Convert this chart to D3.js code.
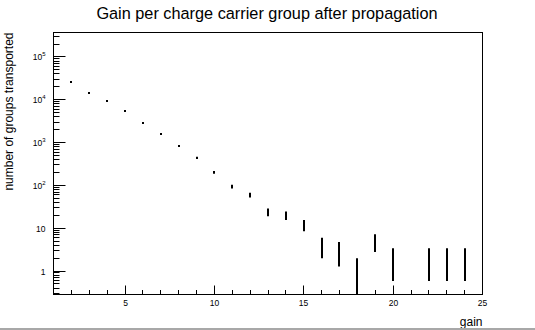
<!DOCTYPE html>
<html><head><meta charset="utf-8">
<script src="https://cdn.jsdelivr.net/npm/d3@7"></script>
<style>body{margin:0;background:#fff}svg{display:block;font-family:"Liberation Sans",Arial,sans-serif}</style>
</head><body><svg id="c" width="535" height="330"></svg>
<script>
const gains  = [2,3,4,5,6,7,8,9,10,11,12,13,14,15,16,17,18,19,20,21,22,23,24];
const counts = [25900,14300,9300,5460,2860,1590,834,447,200,94,60,24,20,12,4,3,1,5,2,0,2,2,2];
const xTickLabels = ["5","10","15","20","25"];
const yDecades = [0,1,2,3,4,5];

const svg = d3.select("#c");
const W=535,H=330;
const L=53.5,R=482.5,T=32.5,B=294.5;
const yMin=0.283, yMax=3.72e5;
const x = d3.scaleLinear().domain([1,25]).range([L,R]);
const y = d3.scaleLog().domain([yMin,yMax]).range([B,T]);

svg.append("rect").attr("width",W).attr("height",H).attr("fill","#fff");

// title
svg.append("text").attr("x",267).attr("y",19).attr("text-anchor","middle")
  .attr("font-size",16.3).text("Gain per charge carrier group after propagation");

// frame
svg.append("rect").attr("x",L).attr("y",T).attr("width",R-L).attr("height",B-T)
  .attr("fill","none").attr("stroke","#000").attr("stroke-width",1);

// x axis
const xt = d3.range(1,26);
const xa = d3.axisBottom(x).tickValues(xt).tickSizeInner(-9).tickSizeOuter(0).tickFormat(()=> "");
const gx = svg.append("g").attr("transform",`translate(0,${B})`).call(xa);
gx.select(".domain").remove();
gx.selectAll(".tick").attr("transform",d=>`translate(${Math.floor(x(d))+0.5},0)`);
gx.selectAll(".tick line").attr("y2",d=> d%5===0 ? -9 : -4.5).attr("stroke","#000");
gx.selectAll(".tick text").remove();
gx.selectAll(".tick").filter(d=>d%5===0).append("text")
  .attr("y",11).attr("fill","#000").attr("text-anchor","middle").attr("font-size",8.5)
  .text(d=> xTickLabels[d/5-1]);

// y axis
const yt = [];
for (let e=-1;e<=5;e++) for (let k=1;k<=9;k++){ const v=k*Math.pow(10,e); if(v>=yMin && v<=yMax) yt.push(v); }
const ya = d3.axisLeft(y).tickValues(yt).tickSizeInner(-12).tickSizeOuter(0).tickFormat(()=> "");
const gy = svg.append("g").attr("transform",`translate(${L},0)`).call(ya);
gy.select(".domain").remove();
gy.selectAll(".tick").attr("transform",d=>`translate(0,${Math.floor(y(d))+0.5})`);
const isMajor = v => Math.abs(Math.log10(v)-Math.round(Math.log10(v)))<1e-9;
gy.selectAll(".tick line").attr("x2",d=> isMajor(d)?12:6).attr("stroke","#000");
gy.selectAll(".tick text").remove();
gy.selectAll(".tick").filter(d=>isMajor(d)).each(function(d){
  const e = Math.round(Math.log10(d));
  const t = d3.select(this).append("text").attr("fill","#000").attr("font-size",8.5)
    .attr("text-anchor","end").attr("y",3).attr("x",-8);
  if (e===0) t.text("1");
  else if (e===1) t.text("10");
  else { t.text("10"); t.append("tspan").attr("font-size",6).attr("dy",-4).text(e); }
});

// axis titles
svg.append("text").attr("x",R).attr("y",326).attr("text-anchor","end").attr("font-size",12).text("gain");
svg.append("text").attr("transform",`translate(13,${T}) rotate(-90)`).attr("text-anchor","end")
  .attr("font-size",12).text("number of groups transported");

// data
const data = gains.map((g,i)=>({g, v:counts[i]})).filter(d=>d.v>0);
const clip = v => Math.max(yMin, Math.min(yMax, v));
const px = g => Math.round(x(g));
const gd = svg.append("g");
gd.selectAll("line.err").data(data).join("line").attr("class","err")
  .attr("x1",d=>px(d.g)).attr("x2",d=>px(d.g))
  .attr("y1",d=>y(clip(d.v+Math.sqrt(d.v))))
  .attr("y2",d=>y(clip(d.v-Math.sqrt(d.v))))
  .attr("stroke","#000").attr("stroke-width",2);
gd.selectAll("rect.m").data(data).join("rect").attr("class","m")
  .attr("x",d=>px(d.g)-1).attr("y",d=>Math.round(y(d.v))-1).attr("width",2).attr("height",2).attr("fill","#000");

// bottom gray border
svg.append("rect").attr("x",0).attr("y",328).attr("width",W).attr("height",2).attr("fill","#a8a8a8");
</script></body></html>
